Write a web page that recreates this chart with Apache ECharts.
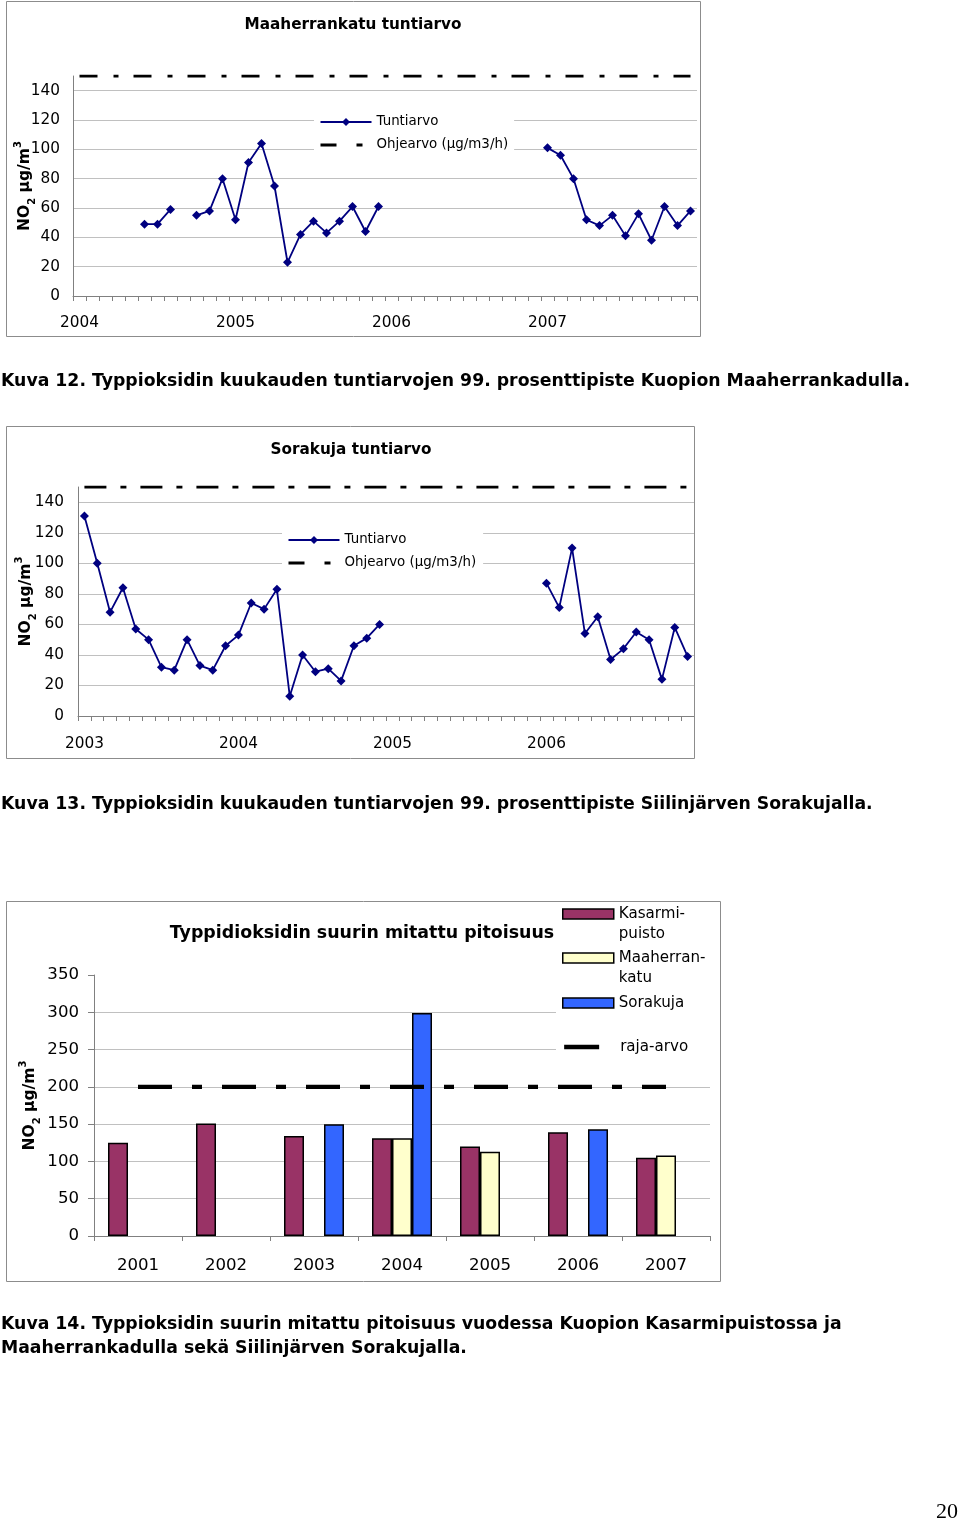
<!DOCTYPE html>
<html>
<head>
<meta charset="utf-8">
<script src="https://cdn.jsdelivr.net/npm/echarts@6/dist/echarts.min.js"></script>
<style>
html,body{margin:0;padding:0;background:#fff;}
#c{width:960px;height:1523px;}
</style>
</head>
<body>
<div id="c"></div>
<script>
// ---------- DATA ----------
const monthCodes = ['01','02','03','04','05','06','07','08','09','10','11','12'];
const maaYears = ['2004','2005','2006','2007'];
const soraYears = ['2003','2004','2005','2006'];
const maaMonths = maaYears.flatMap(y => monthCodes.map(m => y + '-' + m));
const soraMonths = soraYears.flatMap(y => monthCodes.map(m => y + '-' + m));

const maaTuntiarvo = [
  null, null, null, null, null, 49, 49, 59, null, 55, 58, 80,
  52, 91, 104, 75, 23, 42, 51, 43, 51, 61, 44, 61,
  null, null, null, null, null, null, null, null, null, null, null, null,
  101, 96, 80, 52, 48, 55, 41, 56, 38, 61, 48, 58
];
const maaOhjearvo = [
  150,150,150,150,150,150,150,150,150,150,150,150,
  150,150,150,150,150,150,150,150,150,150,150,150,
  150,150,150,150,150,150,150,150,150,150,150,150,
  150,150,150,150,150,150,150,150,150,150,150,150
];
const soraTuntiarvo = [
  131, 100, 68, 84, 57, 50, 32, 30, 50, 33, 30, 46,
  53, 74, 70, 83, 13, 40, 29, 31, 23, 46, 51, 60,
  null, null, null, null, null, null, null, null, null, null, null, null,
  87, 71, 110, 54, 65, 37, 44, 55, 50, 24, 58, 39
];
const soraOhjearvo = [
  150,150,150,150,150,150,150,150,150,150,150,150,
  150,150,150,150,150,150,150,150,150,150,150,150,
  150,150,150,150,150,150,150,150,150,150,150,150,
  150,150,150,150,150,150,150,150,150,150,150,150
];
const barYears = ['2001','2002','2003','2004','2005','2006','2007'];
const kasarmipuisto = [125, 151, 134, 131, 120, 139, 105];
const maaherrankatu = [null, null, null, 131, 113, null, 108];
const sorakuja = [null, null, 150, 299, null, 143, null];
const rajaArvo = [200, 200, 200, 200, 200, 200, 200];

// ---------- STYLE ----------
const FONT = 'DejaVu Sans';
const GRID_C = '#c0c0c0';
const AXIS_C = '#808080';

function yName(gap, size) {
  return {
    name: 'NO{sub|2} µg/m{sup|3}',
    nameLocation: 'middle',
    nameGap: gap,
    nameRotate: 90,
    nameMoveOverlap: false,
    nameTextStyle: {
      fontFamily: FONT, fontSize: size, fontWeight: 'bold', color: '#000', lineHeight: 24,
      rich: {
        sub: {fontFamily: FONT, fontSize: 10, fontWeight: 'bold', color: '#000', verticalAlign: 'bottom', lineHeight: 14},
        sup: {fontFamily: FONT, fontSize: 10, fontWeight: 'bold', color: '#000', verticalAlign: 'top', lineHeight: 10}
      }
    }
  };
}

function monthAxis(idx, cats, margin) {
  return {
    type: 'category', gridIndex: idx, data: cats, boundaryGap: true,
    axisLine: {show: true, lineStyle: {color: AXIS_C, width: 1}},
    axisTick: {show: true, interval: 0, length: 5, lineStyle: {color: AXIS_C}},
    axisLabel: {interval: 11, margin: margin, fontFamily: FONT, fontSize: 15.3, color: '#000',
      formatter: v => v.slice(0, 4)},
    splitLine: {show: false}
  };
}

function valAxis(idx, max, interval, margin, fs, gap, ticks, showMax) {
  return Object.assign({
    type: 'value', gridIndex: idx, min: 0, max: max, interval: interval,
    axisLine: {show: true, lineStyle: {color: AXIS_C, width: 1}},
    axisTick: {show: ticks, length: 6, lineStyle: {color: AXIS_C}},
    axisLabel: {showMaxLabel: showMax, margin: margin, fontFamily: FONT, fontSize: fs, color: '#000'},
    splitLine: {show: true, showMaxLine: false, lineStyle: {color: GRID_C, width: 1}}
  }, yName(gap, 15.5));
}

function titleAt(text, left, top, size, align, extra) {
  return Object.assign({
    text: text, left: left, top: top, padding: 0, textAlign: align,
    textStyle: {fontFamily: FONT, fontSize: size, fontWeight: 'bold', color: '#000', lineHeight: 24}
  }, extra || {});
}

const lineLegendItems = [
  {name: 'Tuntiarvo'},
  {name: 'Ohjearvo (µg/m3/h)', itemStyle: {opacity: 0},
   lineStyle: {color: '#000', width: 3, type: [16, 20, 6, 20]}}
];
function lineLegend(left, top, padding) {
  return {
    data: lineLegendItems, orient: 'vertical', left: left, top: top, padding: padding,
    itemWidth: 51, itemHeight: 10, itemGap: 7, backgroundColor: '#fff', selectedMode: false,
    textStyle: {fontFamily: FONT, fontSize: 13.4, color: '#000', lineHeight: 16}
  };
}
function barLegend(name, label, top, extraItem) {
  const item = Object.assign({name: name}, extraItem);
  return {
    data: [item], orient: 'vertical', left: 562, top: top, padding: 0,
    itemWidth: 51, itemHeight: 10, selectedMode: false, formatter: label,
    textStyle: {fontFamily: FONT, fontSize: 15.1, color: '#000', lineHeight: 20,
      backgroundColor: 'rgba(255,255,255,0)'}
  };
}
const barIcon = {icon: 'rect', itemStyle: {borderColor: '#000', borderWidth: 1.5}};

const option = {
  animation: false,
  backgroundColor: '#fff',
  title: [
    titleAt('Maaherrankatu tuntiarvo', 353, 13, 15.25, 'center'),
    titleAt('Sorakuja tuntiarvo', 351, 438, 15.25, 'center'),
    titleAt('Typpidioksidin suurin mitattu pitoisuus', 362, 921, 17.4, 'center'),
    titleAt('Kuva 12. Typpioksidin kuukauden tuntiarvojen 99. prosenttipiste Kuopion Maaherrankadulla.', 1, 370, 17.3, 'left'),
    titleAt('Kuva 13. Typpioksidin kuukauden tuntiarvojen 99. prosenttipiste Siilinjärven Sorakujalla.', 1, 793, 17.3, 'left'),
    titleAt('Kuva 14. Typpioksidin suurin mitattu pitoisuus vuodessa Kuopion Kasarmipuistossa ja\nMaaherrankadulla sekä Siilinjärven Sorakujalla.', 1, 1313, 17.3, 'left'),
    {text: '20', left: 936, top: 1500, padding: 0,
     textStyle: {fontFamily: 'Liberation Serif', fontSize: 22, fontWeight: 'normal', color: '#000', lineHeight: 24}}
  ],
  grid: [
    {left: 73, top: 76, width: 624, height: 220, outerBoundsMode: 'none', containLabel: false},
    {left: 78, top: 487, width: 616, height: 229, outerBoundsMode: 'none', containLabel: false},
    {left: 94, top: 975, width: 616, height: 261, outerBoundsMode: 'none', containLabel: false}
  ],
  xAxis: [
    monthAxis(0, maaMonths, 20),
    monthAxis(1, soraMonths, 21),
    {
      type: 'category', gridIndex: 2, data: barYears, boundaryGap: true,
      axisLine: {show: true, lineStyle: {color: AXIS_C, width: 1}},
      axisTick: {show: true, interval: 0, length: 5, lineStyle: {color: AXIS_C}},
      axisLabel: {interval: 0, margin: 21, fontFamily: FONT, fontSize: 16.6, color: '#000'},
      splitLine: {show: false}
    }
  ],
  yAxis: [
    valAxis(0, 150, 20, 13, 15.3, 36, false, false),
    valAxis(1, 150, 20, 14, 15.3, 40, false, false),
    valAxis(2, 350, 50, 15, 16.6, 52, true, true)
  ],
  legend: [
    lineLegend(314, 110, [4, 6, 5, 5]),
    lineLegend(282, 528, [4, 7, 5, 5]),
    barLegend('Kasarmipuisto', '\nKasarmi-\npuisto', 884, barIcon),
    barLegend('Maaherrankatu', '\nMaaherran-\nkatu', 928, barIcon),
    barLegend('Sorakuja', 'Sorakuja', 993, barIcon),
    barLegend('raja-arvo', 'raja-arvo', 1037, {itemStyle: {opacity: 0}, lineStyle: {color: '#000', width: 4.3, type: [35, 100]}})
  ],
  graphic: [
    {type: 'rect', z: 3, silent: true, shape: {x: 556, y: 902, width: 162, height: 158}, style: {fill: '#fff'}},
    {type: 'rect', z: 20, silent: true, shape: {x: 6.5, y: 1.5, width: 694, height: 335}, style: {fill: 'none', stroke: '#8c8c8c', lineWidth: 1}},
    {type: 'rect', z: 20, silent: true, shape: {x: 6.5, y: 426.5, width: 688, height: 332}, style: {fill: 'none', stroke: '#8c8c8c', lineWidth: 1}},
    {type: 'rect', z: 20, silent: true, shape: {x: 6.5, y: 901.5, width: 714, height: 380}, style: {fill: 'none', stroke: '#8c8c8c', lineWidth: 1}}
  ],
  series: [
    {name: 'Tuntiarvo', type: 'line', xAxisIndex: 0, yAxisIndex: 0, data: maaTuntiarvo,
     color: '#000080', symbol: 'diamond', symbolSize: 9, showAllSymbol: true, connectNulls: false,
     lineStyle: {color: '#000080', width: 1.8}, itemStyle: {color: '#000080'}},
    {name: 'Ohjearvo (µg/m3/h)', type: 'line', xAxisIndex: 0, yAxisIndex: 0, data: maaOhjearvo,
     color: '#000', symbol: 'none', lineStyle: {color: '#000', width: 3, type: [18, 16, 5, 15]}},
    {name: 'Tuntiarvo', type: 'line', xAxisIndex: 1, yAxisIndex: 1, data: soraTuntiarvo,
     color: '#000080', symbol: 'diamond', symbolSize: 9, showAllSymbol: true, connectNulls: false,
     lineStyle: {color: '#000080', width: 1.8}, itemStyle: {color: '#000080'}},
    {name: 'Ohjearvo (µg/m3/h)', type: 'line', xAxisIndex: 1, yAxisIndex: 1, data: soraOhjearvo,
     color: '#000', symbol: 'none', lineStyle: {color: '#000', width: 3, type: [22, 14, 6, 14]}},
    {name: 'Kasarmipuisto', type: 'bar', xAxisIndex: 2, yAxisIndex: 2, data: kasarmipuisto,
     barWidth: 20, barGap: '0%', color: '#993366', itemStyle: {color: '#993366', borderColor: '#000', borderWidth: 1.5}},
    {name: 'Maaherrankatu', type: 'bar', xAxisIndex: 2, yAxisIndex: 2, data: maaherrankatu,
     barWidth: 20, barGap: '0%', color: '#ffffcc', itemStyle: {color: '#ffffcc', borderColor: '#000', borderWidth: 1.5}},
    {name: 'Sorakuja', type: 'bar', xAxisIndex: 2, yAxisIndex: 2, data: sorakuja,
     barWidth: 20, barGap: '0%', color: '#3366ff', itemStyle: {color: '#3366ff', borderColor: '#000', borderWidth: 1.5}},
    {name: 'raja-arvo', type: 'line', xAxisIndex: 2, yAxisIndex: 2, data: rajaArvo,
     color: '#000', symbol: 'none', z: 5, lineStyle: {color: '#000', width: 4.3, type: [34, 20, 10, 20]}}
  ]
};

const chart = echarts.init(document.getElementById('c'), null, {renderer: 'canvas'});
chart.setOption(option);
</script>
</body>
</html>
